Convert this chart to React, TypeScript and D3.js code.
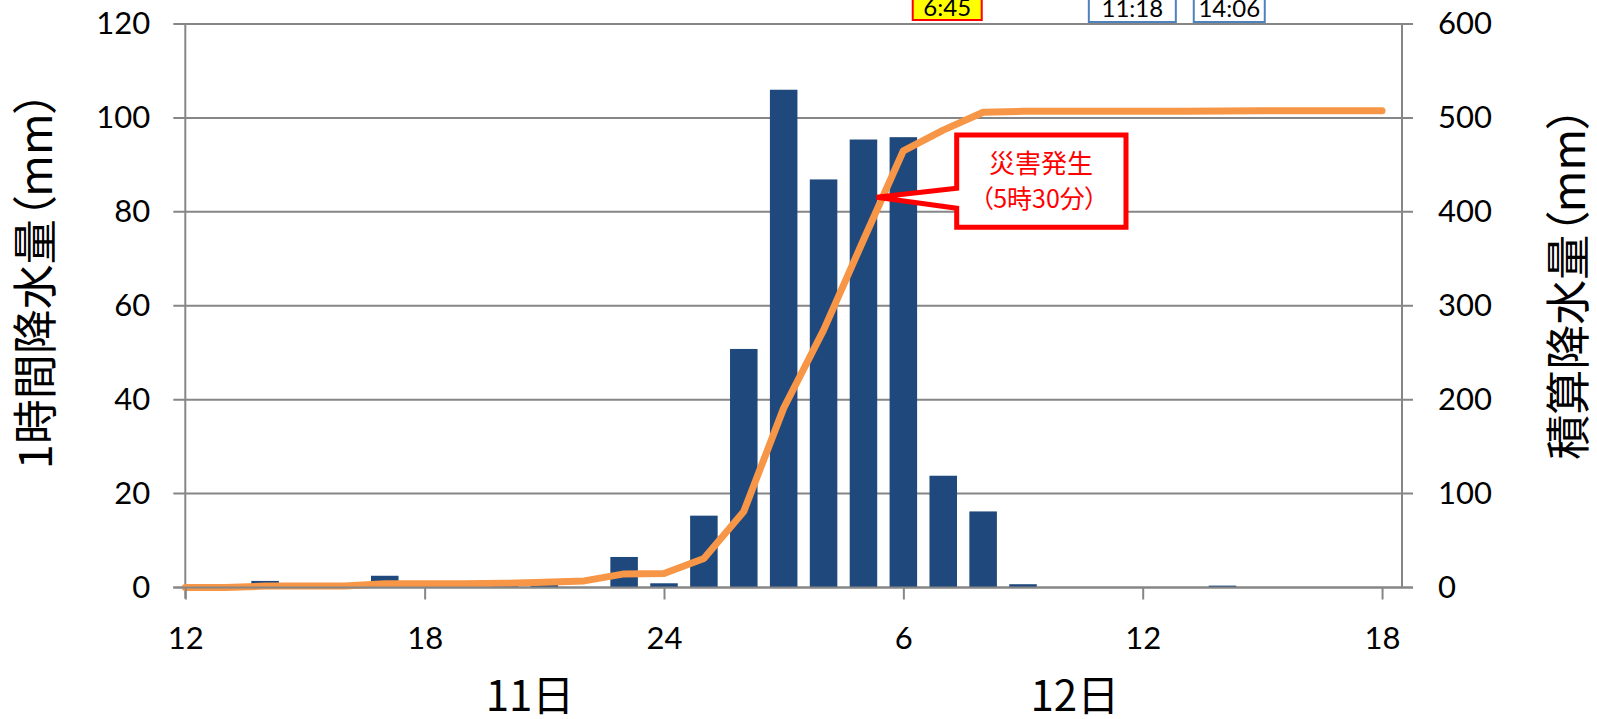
import { useEffect, useRef } from 'react';
import * as d3 from 'd3';

// hour index 0 = 11日 12時, 30 = 12日 18時
const barHours = [1, 2, 3, 4, 5, 6, 7, 8, 9, 10, 11, 12, 13, 14, 15, 16, 17, 18, 19, 20, 21, 22, 23, 24, 25, 26, 27, 28, 29, 30];
const hourlyRain = [0, 1.4, 0, 0, 2.5, 0, 0, 0.5, 0.7, 0, 6.5, 0.9, 15.3, 50.8, 106, 86.9, 95.4, 95.9, 23.8, 16.2, 0.7, 0, 0, 0, 0, 0.4, 0, 0, 0, 0];

const lineHours = [0, 1, 2, 3, 4, 5, 6, 7, 8, 9, 10, 11, 12, 13, 14, 15, 16, 17, 18, 19, 20, 21, 22, 23, 24, 25, 26, 27, 28, 29, 30];
const cumRain = [0, 0, 1.5, 1.5, 1.5, 4, 4, 4, 4.5, 5.5, 7, 14.5, 15, 30.8, 81, 191, 274, 370, 465, 487, 506, 507, 507, 507, 507, 507, 507.4, 507.5, 507.5, 507.5, 507.5];

const xTicks = [0, 6, 12, 18, 24, 30];
const xTickLabels = ['12', '18', '24', '6', '12', '18'];
const leftTicks = [0, 20, 40, 60, 80, 100, 120];
const rightTicks = [0, 100, 200, 300, 400, 500, 600];

const dayLabels = ['11日', '12日'];
const dayHours = [8.64, 22.3];

// time boxes along the top edge
const eventLabels = ['6:45', '11:18', '14:06'];
const eventHours = [19.1, 23.74, 26.17];
const eventWidths = [69, 87, 71];
const eventFill = ['#ffff00', '#ffffff', '#ffffff'];
const eventStroke = ['#ff0000', '#4f81bd', '#4f81bd'];

// 災害発生 callout points at the cumulative line
const calloutHour = 17.33;
const calloutValue = 415.5;

const NUM_FONT = 'Lato, "Noto Sans", sans-serif';
const JP_FONT = '"Noto Sans CJK JP", sans-serif';

export default function App() {
  const ref = useRef<SVGSVGElement>(null);

  useEffect(() => {
    if (!ref.current) return;
    const W = 1597;
    const H = 719;
    const left = 185.3;
    const right = 1402;
    const top = 24;
    const bottom = 587.5;
    const GRID = '#868686';

    const x = d3.scaleLinear().domain([0, 30.5]).range([left, right]);
    const yL = d3.scaleLinear().domain([0, 120]).range([bottom, top]);
    const yR = d3.scaleLinear().domain([0, 600]).range([bottom, top]);

    const svg = d3.select(ref.current);
    svg.selectAll('*').remove();
    svg.attr('width', W).attr('height', H).attr('viewBox', `0 0 ${W} ${H}`);

    svg.append('rect').attr('width', W).attr('height', H).attr('fill', '#ffffff');

    // gridlines (incl. tick stubs on both sides)
    svg.append('g')
      .selectAll('line')
      .data(leftTicks)
      .enter()
      .append('line')
      .attr('x1', left - 12)
      .attr('x2', right + 11)
      .attr('y1', d => yL(d))
      .attr('y2', d => yL(d))
      .attr('stroke', GRID)
      .attr('stroke-width', 2);

    // bars
    const bw = x(0.69) - x(0);
    svg.append('g')
      .selectAll('rect')
      .data(barHours)
      .enter()
      .append('rect')
      .attr('x', d => x(d) - bw / 2)
      .attr('width', bw)
      .attr('y', (_d, i) => yL(hourlyRain[i]))
      .attr('height', (_d, i) => bottom - yL(hourlyRain[i]))
      .attr('fill', '#1f497d');

    // axes lines
    svg.append('line')
      .attr('x1', left).attr('x2', left)
      .attr('y1', top).attr('y2', bottom + 11)
      .attr('stroke', GRID).attr('stroke-width', 2);
    svg.append('line')
      .attr('x1', right).attr('x2', right)
      .attr('y1', top).attr('y2', bottom)
      .attr('stroke', GRID).attr('stroke-width', 2);

    // cumulative line
    const line = d3.line<number>()
      .x((_d, i) => x(lineHours[i]))
      .y(d => yR(d));
    svg.append('path')
      .datum(cumRain)
      .attr('d', line)
      .attr('fill', 'none')
      .attr('stroke', '#f79646')
      .attr('stroke-width', 7)
      .attr('stroke-linejoin', 'round')
      .attr('stroke-linecap', 'round');

    // left axis
    const gl = svg.append('g')
      .attr('transform', `translate(${left},0)`)
      .call(d3.axisLeft(yL).tickValues(leftTicks).tickSize(0).tickPadding(35));
    gl.select('.domain').remove();
    gl.selectAll('text')
      .attr('font-family', NUM_FONT)
      .attr('font-size', 31)
      .attr('fill', '#000');

    // right axis
    const gr = svg.append('g')
      .attr('transform', `translate(${right},0)`)
      .call(d3.axisRight(yR).tickValues(rightTicks).tickSize(0).tickPadding(36));
    gr.select('.domain').remove();
    gr.selectAll('text')
      .attr('font-family', NUM_FONT)
      .attr('font-size', 31)
      .attr('fill', '#000');

    // bottom axis
    const gb = svg.append('g')
      .attr('transform', `translate(0,${bottom})`)
      .call(
        d3.axisBottom(x)
          .tickValues(xTicks)
          .tickFormat((_d, i) => xTickLabels[i])
          .tickSize(12)
          .tickSizeOuter(0)
      );
    gb.select('.domain')
      .attr('d', `M${left - 12},0H${right + 11}`)
      .attr('stroke', GRID)
      .attr('stroke-width', 2);
    gb.selectAll('.tick line').attr('stroke', GRID).attr('stroke-width', 2);
    gb.selectAll('text')
      .attr('y', 61.5)
      .attr('dy', null)
      .attr('font-family', NUM_FONT)
      .attr('font-size', 31)
      .attr('fill', '#000');

    // day labels
    svg.append('g')
      .selectAll('text')
      .data(dayLabels)
      .enter()
      .append('text')
      .attr('x', (_d, i) => x(dayHours[i]))
      .attr('y', 711)
      .attr('text-anchor', 'middle')
      .attr('font-family', JP_FONT)
      .attr('font-size', 42)
      .attr('fill', '#000')
      .text(d => d);

    // axis titles
    svg.append('text')
      .attr('transform', 'translate(52,280) rotate(-90)')
      .attr('text-anchor', 'middle')
      .attr('font-family', JP_FONT)
      .attr('font-size', 45)
      .style('font-feature-settings', '"palt"')
      .attr('fill', '#000')
      .text('1時間降水量（mm）');
    svg.append('text')
      .attr('transform', 'translate(1585,283) rotate(-90)')
      .attr('text-anchor', 'middle')
      .attr('font-family', JP_FONT)
      .attr('font-size', 45)
      .style('font-feature-settings', '"palt"')
      .attr('fill', '#000')
      .text('積算降水量（mm）');

    // callout
    const tipX = x(calloutHour);
    const tipY = yR(calloutValue);
    const bx0 = 956.7, bx1 = 1126, by0 = 135, by1 = 227.3;
    svg.append('path')
      .attr('d', `M${bx0},${by0}H${bx1}V${by1}H${bx0}V208.3L${tipX},${tipY}L${bx0},188.3Z`)
      .attr('fill', '#ffffff')
      .attr('stroke', '#ff0000')
      .attr('stroke-width', 5)
      .attr('stroke-linejoin', 'miter');
    svg.append('text')
      .attr('x', 1041)
      .attr('y', 173)
      .attr('text-anchor', 'middle')
      .attr('font-family', JP_FONT)
      .attr('font-size', 26)
      .attr('fill', '#ff0000')
      .text('災害発生');
    svg.append('text')
      .attr('x', 1039)
      .attr('y', 208)
      .attr('text-anchor', 'middle')
      .attr('font-family', JP_FONT)
      .attr('font-size', 25)
      .style('font-feature-settings', '"palt"')
      .attr('fill', '#ff0000')
      .text('（5時30分）');

    // time boxes at top
    const ev = svg.append('g')
      .selectAll('g')
      .data(eventLabels)
      .enter()
      .append('g');
    ev.append('rect')
      .attr('x', (_d, i) => x(eventHours[i]) - eventWidths[i] / 2)
      .attr('y', -10)
      .attr('width', (_d, i) => eventWidths[i])
      .attr('height', (_d, i) => (i === 0 ? 30 : 32))
      .attr('fill', (_d, i) => eventFill[i])
      .attr('stroke', (_d, i) => eventStroke[i])
      .attr('stroke-width', 2);
    ev.append('text')
      .attr('x', (_d, i) => x(eventHours[i]))
      .attr('y', (_d, i) => (i === 0 ? 15.5 : 17))
      .attr('text-anchor', 'middle')
      .attr('font-family', NUM_FONT)
      .attr('font-size', 24)
      .attr('fill', '#000')
      .text(d => d);
  }, []);

  return <svg ref={ref} style={{ position: 'absolute', left: 0, top: 0, display: 'block' }} />;
}
